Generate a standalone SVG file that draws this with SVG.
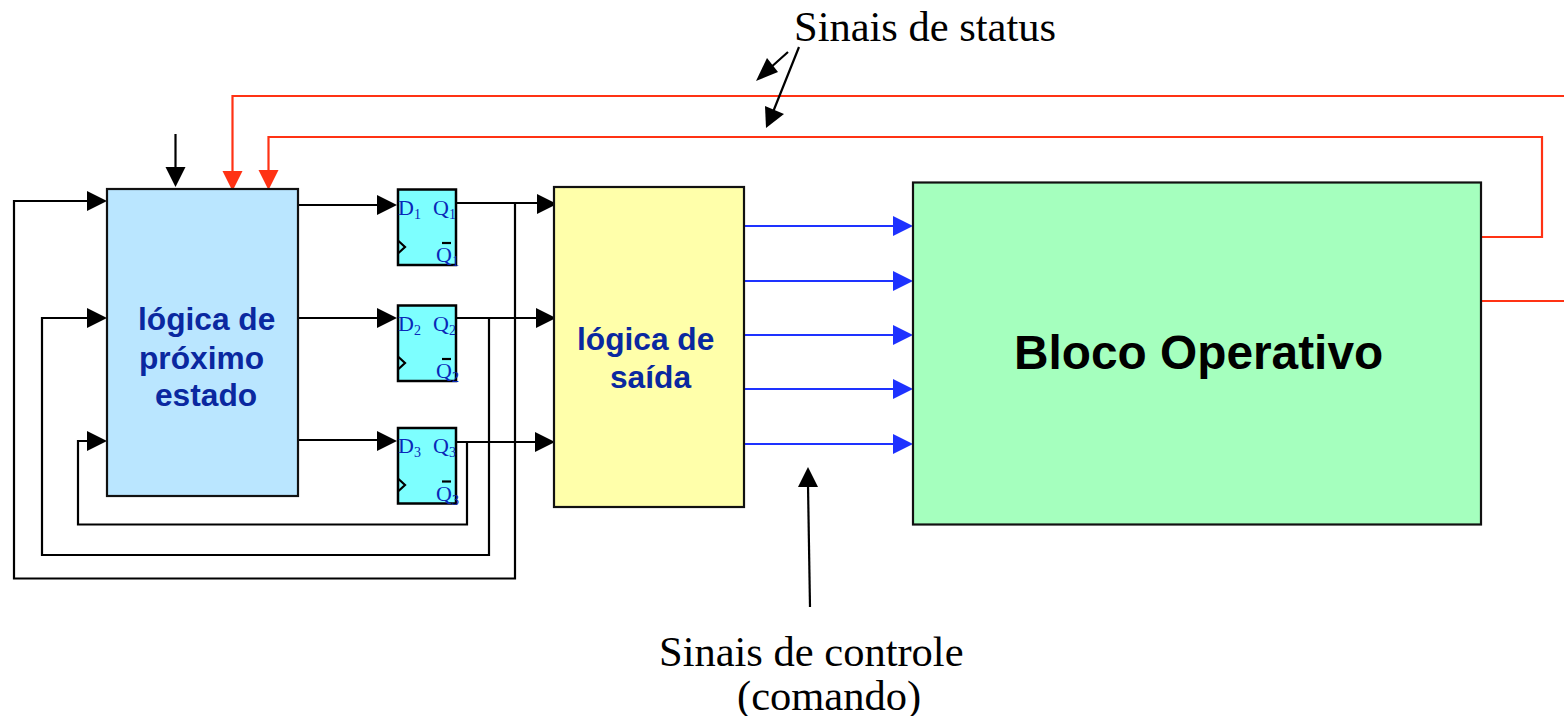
<svg xmlns="http://www.w3.org/2000/svg" width="1564" height="716" viewBox="0 0 1564 716">
<style>
.b{stroke:#000;stroke-width:2.200;fill:none}
.box{stroke:#111;stroke-width:2.200}
.r{stroke:#ff3214;stroke-width:2.200;fill:none}
.u{stroke:#1e32ff;stroke-width:2.200;fill:none}
.ah{fill:#000}.ar{fill:#ff3214}.au{fill:#1e32ff}
.t{font-family:"Liberation Serif",serif;fill:#000;font-size:42.500px}
.l{font-family:"Liberation Sans",sans-serif;font-weight:bold;fill:#0a28a0;font-size:31.700px}
.f{font-family:"Liberation Serif",serif;fill:#0a28b8;font-size:22px}
.s{font-size:14px}
.ff{fill:#7dffff;stroke:#000;stroke-width:2.500}
.ck{fill:none;stroke:#000;stroke-width:2.200}
</style>
<defs>
<polygon id="hr" points="0,0 -20,-10 -20,10"/>
<polygon id="hd" points="0,0 -10,-20 10,-20"/>
</defs>
<g id="connectors">
<path class="r" d="M1564 96H232.500V172"/>
<path class="r" d="M1482 237H1542V137H268.500V172"/>
<path class="r" d="M1482 301H1564"/>
<use href="#hd" class="ar" x="232.500" y="191"/>
<use href="#hd" class="ar" x="268.500" y="190"/>
<path class="b" d="M175.500 134V170"/>
<use href="#hd" class="ah" x="175.500" y="187"/>
<path class="b" d="M298 205H380M298 318H380M298 440H380"/>
<use href="#hr" class="ah" x="397" y="205"/>
<use href="#hr" class="ah" x="397" y="318"/>
<use href="#hr" class="ah" x="397" y="441"/>
<path class="b" d="M457 203H540M457 318H540M457 442H540"/>
<use href="#hr" class="ah" x="557" y="204"/>
<use href="#hr" class="ah" x="556" y="318"/>
<use href="#hr" class="ah" x="555" y="442"/>
<path class="b" d="M515 203V578.500H14V201H90"/>
<path class="b" d="M489 318V555H42V318H90"/>
<path class="b" d="M467 442V524.500H78V441H90"/>
<use href="#hr" class="ah" x="107" y="201"/>
<use href="#hr" class="ah" x="107" y="318"/>
<use href="#hr" class="ah" x="107" y="441"/>
<path class="u" d="M745 226H895M745 281H895M745 335H895M745 389H895M745 444H895"/>
<use href="#hr" class="au" x="913" y="226"/>
<use href="#hr" class="au" x="913" y="281"/>
<use href="#hr" class="au" x="913" y="335"/>
<use href="#hr" class="au" x="913" y="389"/>
<use href="#hr" class="au" x="913" y="444"/>
<path class="b" d="M788 52L769 69M799 47L773 112"/>
<polygon class="ah" points="756,81 767,58 778,72"/>
<polygon class="ah" points="766,128 765,106 784,114"/>
<path class="b" d="M810 607L808 485"/>
<polygon class="ah" points="808,467 798,487 818,487"/>
</g>
<g id="logica-proximo-estado">
<rect class="box" x="107" y="189" width="191" height="307" fill="#bae6ff"/>
<text class="l" x="138" y="330">lógica de</text>
<text class="l" x="139" y="369">próximo</text>
<text class="l" x="155" y="406">estado</text>
</g>
<g id="ff1">
<rect class="ff" x="398" y="189.500" width="58" height="75.500"/>
<path class="ck" d="M398.500 241L405 247L398.500 253"/>
<path class="b" d="M442 243H451"/>
<text class="f" x="398" y="215">D<tspan class="s" dy="4">1</tspan></text>
<text class="f" x="433" y="215">Q<tspan class="s" dy="4">1</tspan></text>
<text class="f" x="436" y="262">Q<tspan class="s" dy="4">1</tspan></text>
</g>
<g id="ff2">
<rect class="ff" x="398" y="305.500" width="58" height="75.500"/>
<path class="ck" d="M398.500 357L405 363L398.500 369"/>
<path class="b" d="M442 359H451"/>
<text class="f" x="398" y="331">D<tspan class="s" dy="4">2</tspan></text>
<text class="f" x="433" y="331">Q<tspan class="s" dy="4">2</tspan></text>
<text class="f" x="436" y="378">Q<tspan class="s" dy="4">2</tspan></text>
</g>
<g id="ff3">
<rect class="ff" x="398" y="428" width="58" height="75.500"/>
<path class="ck" d="M398.500 479L405 485L398.500 491"/>
<path class="b" d="M442 481.500H451"/>
<text class="f" x="398" y="453">D<tspan class="s" dy="4">3</tspan></text>
<text class="f" x="433" y="453">Q<tspan class="s" dy="4">3</tspan></text>
<text class="f" x="436" y="501">Q<tspan class="s" dy="4">3</tspan></text>
</g>
<g id="logica-saida">
<rect class="box" x="554" y="187" width="190" height="320" fill="#ffffaa"/>
<text class="l" x="577" y="350">lógica de</text>
<text class="l" x="610" y="388">saída</text>
</g>
<g id="bloco-operativo">
<rect class="box" x="913" y="182.500" width="568" height="342" fill="#a5ffbe"/>
<text x="1014" y="369" font-family="Liberation Sans, sans-serif" font-weight="bold" font-size="47.800" fill="#000">Bloco Operativo</text>
</g>
<g id="labels">
<text class="t" x="794" y="41">Sinais de status</text>
<text class="t" x="659" y="666">Sinais de controle</text>
<text class="t" x="737" y="710">(comando)</text>
</g>
</svg>
